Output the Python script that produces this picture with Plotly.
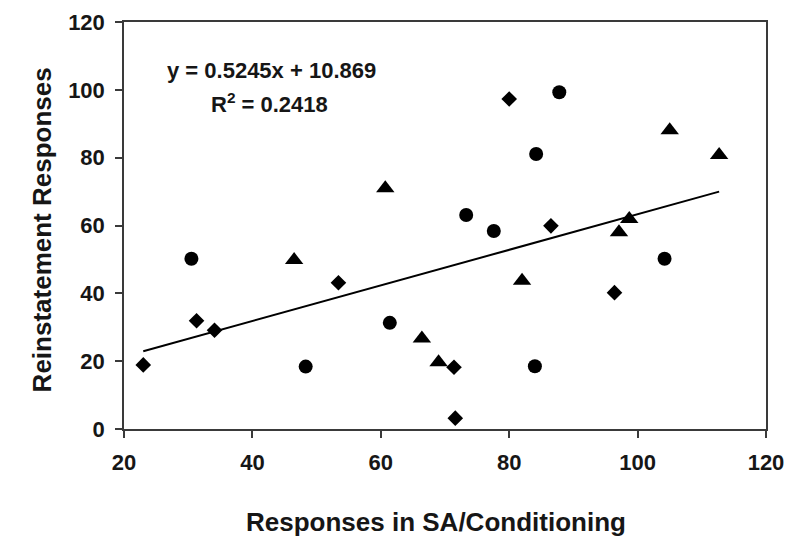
import plotly.graph_objects as go

# Data
diamond_x = [23.0, 31.3, 34.1, 53.4, 71.4, 71.6, 80.0, 86.5, 96.4]
diamond_y = [18.9, 31.9, 29.1, 43.1, 18.2, 3.2, 97.3, 59.9, 40.2]

circle_x = [30.5, 48.3, 61.4, 73.3, 77.6, 84.0, 84.2, 87.8, 104.2]
circle_y = [50.2, 18.4, 31.3, 63.1, 58.4, 18.5, 81.1, 99.3, 50.2]

triangle_x = [46.5, 60.7, 66.4, 69.0, 82.0, 97.1, 98.7, 105.0, 112.7]
triangle_y = [49.8, 71.0, 26.7, 19.7, 43.7, 58.0, 61.9, 88.1, 80.8]

slope = 0.5245
intercept = 10.869
r_squared = 0.2418

x_ticks = [20, 40, 60, 80, 100, 120]
y_ticks = [0, 20, 40, 60, 80, 100, 120]

x_title = "Responses in SA/Conditioning"
y_title = "Reinstatement Responses"

all_x = diamond_x + circle_x + triangle_x
fit_x = [min(all_x), max(all_x)]
fit_y = [slope * v + intercept for v in fit_x]

FONT = "Liberation Sans, Arial, sans-serif"
TXT = "#161616"
AX = "#3a3a3a"

fig = go.Figure()
fig.add_trace(go.Scatter(x=fit_x, y=fit_y, mode="lines",
                         line=dict(color="black", width=2), showlegend=False))
fig.add_trace(go.Scatter(x=diamond_x, y=diamond_y, mode="markers",
                         marker=dict(symbol="diamond", size=12, color="black"), showlegend=False))
fig.add_trace(go.Scatter(x=circle_x, y=circle_y, mode="markers",
                         marker=dict(symbol="circle", size=14, color="black"), showlegend=False))
fig.add_trace(go.Scatter(x=triangle_x, y=triangle_y, mode="markers",
                         marker=dict(symbol="triangle-up", size=16, color="black"), showlegend=False))

eq_font = dict(family=FONT, size=22, color=TXT, weight="bold")
fig.add_annotation(x=0.229, y=0.882, xref="paper", yref="paper", showarrow=False,
                   text=f"y = {slope}x + {intercept}", font=eq_font,
                   xanchor="center", yanchor="middle")
fig.add_annotation(x=0.226, y=0.802, xref="paper", yref="paper", showarrow=False,
                   text=f"R<sup>2</sup> = {r_squared}", font=eq_font,
                   xanchor="center", yanchor="middle")

title_font = dict(family=FONT, size=26, color=TXT, weight="bold")
fig.add_annotation(x=0.486, y=-0.228, xref="paper", yref="paper", showarrow=False,
                   text=x_title, font=title_font, xanchor="center", yanchor="middle")
fig.add_annotation(x=-0.128, y=0.49, xref="paper", yref="paper", showarrow=False,
                   text=y_title, font=title_font, textangle=-90,
                   xanchor="center", yanchor="middle")

tick_font = dict(family=FONT, size=22, color=TXT, weight="bold")
fig.update_layout(
    width=800, height=548,
    margin=dict(l=116, r=42, t=14, b=127, autoexpand=False),
    paper_bgcolor="white", plot_bgcolor="white",
    font=dict(family=FONT, color=TXT),
    xaxis=dict(range=[20, 120], tickvals=x_ticks, showgrid=False, zeroline=False,
               showline=True, mirror=True, linecolor=AX, linewidth=1.5,
               ticks="outside", ticklen=7, tickcolor=AX, tickwidth=1.5,
               tickfont=tick_font, ticklabelstandoff=6, automargin=False),
    yaxis=dict(range=[0, 120], tickvals=y_ticks, showgrid=False, zeroline=False,
               showline=True, mirror=True, linecolor=AX, linewidth=1.5,
               ticks="outside", ticklen=7, tickcolor=AX, tickwidth=1.5,
               tickfont=tick_font, ticklabelstandoff=6, automargin=False),
)

fig.write_html("out.html")
